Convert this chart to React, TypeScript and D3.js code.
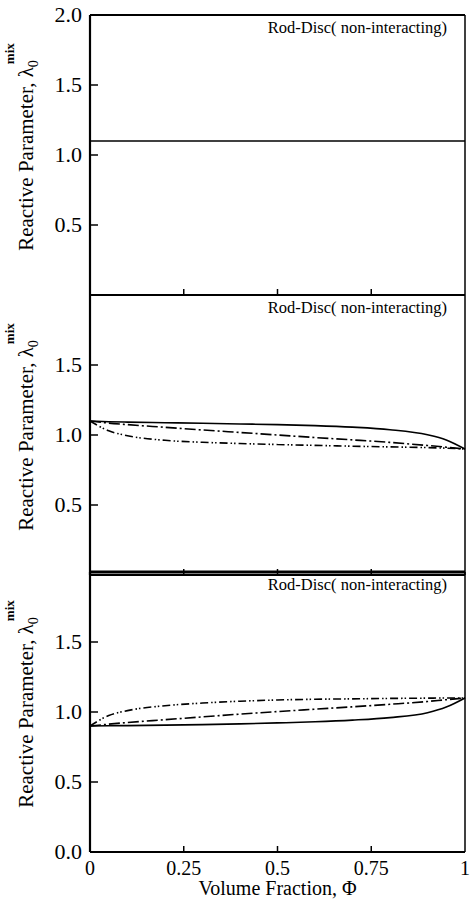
import * as d3 from 'd3';

// volume fraction grid shared by all curves
const phiGrid = [0, 0.05, 0.1, 0.2, 0.3, 0.4, 0.5, 0.6, 0.7, 0.8, 0.9, 0.95, 1];

// top panel: single flat line
const topPhi = [0, 1];
const topSolid = [1.1, 1.1];

// middle panel curves
const midSolid = [1.1, 1.095, 1.092, 1.088, 1.084, 1.079, 1.074, 1.067, 1.056, 1.038, 1.002, 0.965, 0.9];
const midDashDot = [1.1, 1.085, 1.074, 1.055, 1.036, 1.018, 1.0, 0.982, 0.965, 0.947, 0.925, 0.913, 0.9];
const midDashDotDot = [1.1, 1.03, 0.995, 0.962, 0.948, 0.939, 0.932, 0.926, 0.92, 0.915, 0.91, 0.906, 0.9];

// bottom panel curves
const botSolid = [0.9, 0.902, 0.903, 0.906, 0.91, 0.915, 0.922, 0.93, 0.942, 0.96, 0.995, 1.035, 1.1];
const botDashDot = [0.9, 0.913, 0.925, 0.945, 0.965, 0.985, 1.003, 1.02, 1.037, 1.055, 1.075, 1.088, 1.1];
const botDashDotDot = [0.9, 0.975, 1.01, 1.045, 1.064, 1.077, 1.086, 1.091, 1.094, 1.097, 1.099, 1.1, 1.1];

// tick labels
const xTicks = [0, 0.25, 0.5, 0.75, 1];
const xTickLabels = ['0', '0.25', '0.5', '0.75', '1'];
const topYTicks = [0.5, 1.0, 1.5, 2.0];
const midYTicks = [0.5, 1.0, 1.5];
const botYTicks = [0.0, 0.5, 1.0, 1.5];

const panelTitle = 'Rod-Disc( non-interacting)';
const xTitle = 'Volume Fraction, \u03A6';

const width = 471;
const height = 905;
const margin = { left: 90, right: 6 };
const panelTops = [15, 295, 572];
const panelH = 280;
const font = '"Liberation Serif", "Times New Roman", serif';

const dashStyles = {
  solid: undefined,
  dashDot: '11,3,2,3',
  dashDotDot: '8,3,1.5,2,1.5,3',
};

export default function App() {
  const xScale = d3.scaleLinear().domain([0, 1]).range([margin.left, width - margin.right]);

  const panels = [
    {
      yTicks: topYTicks,
      series: [{ phi: topPhi, values: topSolid, dash: dashStyles.solid }],
    },
    {
      yTicks: midYTicks,
      series: [
        { phi: phiGrid, values: midSolid, dash: dashStyles.solid },
        { phi: phiGrid, values: midDashDot, dash: dashStyles.dashDot },
        { phi: phiGrid, values: midDashDotDot, dash: dashStyles.dashDotDot },
      ],
    },
    {
      yTicks: botYTicks,
      series: [
        { phi: phiGrid, values: botSolid, dash: dashStyles.solid },
        { phi: phiGrid, values: botDashDot, dash: dashStyles.dashDot },
        { phi: phiGrid, values: botDashDotDot, dash: dashStyles.dashDotDot },
      ],
    },
  ];

  const x0 = xScale(0);
  const x1 = xScale(1);

  return (
    <svg
      width={width}
      height={height}
      style={{ position: 'absolute', left: 0, top: 0, background: '#fff' }}
      fontFamily={font}
    >
      {panels.map((p, pi) => {
        const top = panelTops[pi];
        const yScale = d3.scaleLinear().domain([0, 2]).range([top + panelH, top]);
        const line = d3
          .line<number>()
          .x((_, i) => 0)
          .curve(d3.curveMonotoneX);
        const cy = top + panelH / 2 - 8;
        return (
          <g key={pi}>
            {/* frame */}
            <line x1={x0} x2={x1} y1={top} y2={top} stroke="#000" strokeWidth={pi === 2 ? 3 : 2} />
            <line x1={x0} x2={x1} y1={top + panelH} y2={top + panelH} stroke="#000" strokeWidth={2} />
            <line x1={x0} x2={x0} y1={top} y2={top + panelH} stroke="#000" strokeWidth={2.2} />
            <line x1={x1} x2={x1} y1={top} y2={top + panelH} stroke="#000" strokeWidth={1.5} />

            {/* x ticks on panel bottom */}
            {xTicks.slice(1, -1).map((t) => (
              <line
                key={t}
                x1={xScale(t)}
                x2={xScale(t)}
                y1={top + panelH}
                y2={top + panelH - 6}
                stroke="#000"
                strokeWidth={1.5}
              />
            ))}

            {/* y ticks */}
            {p.yTicks.map((t) => (
              <g key={t}>
                {t > 0 && t < 2 && (
                  <line
                    x1={x0}
                    x2={x0 + 8}
                    y1={yScale(t)}
                    y2={yScale(t)}
                    stroke="#000"
                    strokeWidth={1.5}
                  />
                )}
                <text
                  x={x0 - 8}
                  y={yScale(t) + 7}
                  textAnchor="end"
                  fontSize={22}
                  fill="#000"
                >
                  {t.toFixed(1)}
                </text>
              </g>
            ))}

            {/* curves */}
            {p.series.map((s, si) => {
              const path = d3
                .line<number>()
                .x((_, i) => xScale(s.phi[i]))
                .y((v) => yScale(v))
                .curve(d3.curveMonotoneX)(s.values);
              return (
                <path
                  key={si}
                  d={path || ''}
                  fill="none"
                  stroke="#000"
                  strokeWidth={1.6}
                  strokeDasharray={s.dash}
                />
              );
            })}

            {/* panel title */}
            <text x={x1 - 18} y={top + 18} textAnchor="end" fontSize={16.5} fill="#000">
              {panelTitle}
            </text>

            {/* y axis title */}
            <text
              transform={`translate(33, ${cy}) rotate(-90)`}
              textAnchor="middle"
              fontSize={21}
              fill="#000"
            >
              Reactive Parameter, {'\u03BB'}
              <tspan fontSize={14} dy={5}>
                0
              </tspan>
              <tspan fontSize={13} fontWeight="bold" dy={-24} dx={-4}>
                mix
              </tspan>
            </text>
            {line && null}
          </g>
        );
      })}

      {/* x tick labels on bottom panel */}
      {xTicks.map((t, i) => (
        <text
          key={t}
          x={xScale(t)}
          y={panelTops[2] + panelH + 23}
          textAnchor="middle"
          fontSize={20}
          fill="#000"
        >
          {xTickLabels[i]}
        </text>
      ))}
      <text
        x={(x0 + x1) / 2}
        y={panelTops[2] + panelH + 43}
        textAnchor="middle"
        fontSize={20}
        fill="#000"
      >
        {xTitle}
      </text>
    </svg>
  );
}
